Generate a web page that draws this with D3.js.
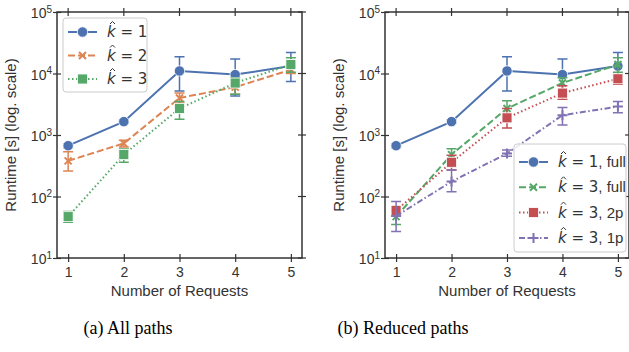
<!DOCTYPE html>
<html lang="en">
<head>
	<meta charset="utf-8">
	<title>Runtime vs requests</title>
	<script src="https://d3js.org/d3.v7.min.js"></script>
	<style>
		body { margin: 0; background: #fff; }
		.tick text, .lab { font-family: "Liberation Sans", Arial, sans-serif; fill: #333; }
	</style>
</head>
<body>
<script>
// ---- data ----
var requests = [1, 2, 3, 4, 5]
var yTicks = [1, 2, 3, 4, 5]   // exponents of 10

// left panel: all paths
var k1 = [670, 1650, 11000, 9600, 13200]
var k1Lo = [620, 1550, 5200, 4300, 7400]
var k1Hi = [720, 1750, 18800, 17200, 22000]

var k2 = [380, 730, 4000, 6000, 11500]
var k2Lo = [260, 640, 3300, 4600, 10000]
var k2Hi = [535, 820, 4800, 6800, 13000]

var k3 = [47, 480, 2700, 7000, 14000]
var k3Lo = [38, 360, 1800, 4600, 10500]
var k3Hi = [57, 590, 3500, 8500, 18000]

// right panel: reduced paths
var k3p2 = [59, 360, 1900, 4800, 8200]
var k3p2Lo = [50, 270, 1300, 3800, 6700]
var k3p2Hi = [70, 470, 2700, 6300, 9400]

var k3p1 = [48, 175, 500, 2100, 2900]
var k3p1Lo = [27, 120, 450, 1450, 2300]
var k3p1Hi = [83, 270, 570, 2800, 3500]

var k3fLo = [35, 360, 1800, 4600, 10500]
var k3fHi = [58, 600, 3600, 8500, 18000]

// seaborn deep palette
var blue = "#4C72B0", orange = "#DD8452", green = "#55A868", red = "#C44E52", purple = "#8172B3"

var left = [
	{ k: "1", tail: "", vals: k1, lo: k1Lo, hi: k1Hi, color: blue, dash: null, marker: "circle" },
	{ k: "2", tail: "", vals: k2, lo: k2Lo, hi: k2Hi, color: orange, dash: "7,3", marker: "x" },
	{ k: "3", tail: "", vals: k3, lo: k3Lo, hi: k3Hi, color: green, dash: "1.5,2.5", marker: "square" }
]
var right = [
	{ k: "1", tail: ", full", vals: k1, lo: k1Lo, hi: k1Hi, color: blue, dash: null, marker: "circle" },
	{ k: "3", tail: ", full", vals: k3, lo: k3fLo, hi: k3fHi, color: green, dash: "7,3", marker: "x" },
	{ k: "3", tail: ", 2p", vals: k3p2, lo: k3p2Lo, hi: k3p2Hi, color: red, dash: "1.5,2.5", marker: "square" },
	{ k: "3", tail: ", 1p", vals: k3p1, lo: k3p1Lo, hi: k3p1Hi, color: purple, dash: "6,2.5,1.5,2.5", marker: "plus" }
]

var W = 629, H = 352
var svg = d3.select("body").append("svg").attr("width", W).attr("height", H)

function drawMarker(g, type, x, y, color) {
	if (type == "circle") {
		g.append("circle").attr("cx", x).attr("cy", y).attr("r", 5.2).attr("fill", color)
			.attr("stroke", "#fff").attr("stroke-width", 0.8)
	} else if (type == "square") {
		g.append("rect").attr("x", x - 5).attr("y", y - 5).attr("width", 10).attr("height", 10)
			.attr("fill", color).attr("stroke", "#fff").attr("stroke-width", 0.8)
	} else if (type == "x") {
		g.append("path").attr("d", "M" + (x - 3.5) + "," + (y - 3.5) + "L" + (x + 3.5) + "," + (y + 3.5) +
			"M" + (x - 3.5) + "," + (y + 3.5) + "L" + (x + 3.5) + "," + (y - 3.5))
			.attr("stroke", color).attr("stroke-width", 2)
	} else {
		g.append("path").attr("d", "M" + (x - 5) + "," + y + "L" + (x + 5) + "," + y +
			"M" + x + "," + (y - 5) + "L" + x + "," + (y + 5))
			.attr("stroke", color).attr("stroke-width", 2)
	}
}

// k-hat label: italic k with a circumflex drawn above it
function khat(g, x, y, k, tail) {
	var t = g.append("text").attr("class", "lab").attr("x", x).attr("y", y)
		.style("font-size", "15px").style("font-family", "'DejaVu Sans', sans-serif")
	t.append("tspan").style("font-style", "italic").text("k")
	t.append("tspan").text(" = " + k)
	t.append("tspan").style("font-family", "'Liberation Sans', Arial, sans-serif").text(tail)
	g.append("path").attr("d", "M" + (x + 3) + "," + (y - 13) + "L" + (x + 5.5) + "," + (y - 15.5) + "L" + (x + 8) + "," + (y - 13))
		.attr("fill", "none").attr("stroke", "#333").attr("stroke-width", 1)
}

function panel(x0, x1, series, caption, capX, legend) {
	var top = 12, bottom = 258
	var xScale = d3.scaleLinear().domain([0.8, 5.2]).range([x0, x1])
	var yScale = d3.scaleLog().domain([10, 1e5]).range([bottom, top])
	var g = svg.append("g")

	// box + crossing ticks
	g.append("rect").attr("x", x0).attr("y", top).attr("width", x1 - x0).attr("height", bottom - top)
		.attr("fill", "none").attr("stroke", "#333").attr("stroke-width", 1.5)

	var xAxis = g.append("g").attr("transform", "translate(0," + bottom + ")")
		.call(d3.axisBottom(xScale).tickValues(requests).tickSize(4).tickPadding(5).tickFormat(d3.format("d")))
	xAxis.select(".domain").remove()
	xAxis.selectAll(".tick line").attr("y1", -4).attr("stroke", "#333").attr("stroke-width", 1.2)
	xAxis.selectAll(".tick text").style("font-size", "14px")

	var yAxis = g.append("g").attr("transform", "translate(" + x0 + ",0)")
		.call(d3.axisLeft(yScale).tickValues(yTicks.map(e => Math.pow(10, e))).tickSize(4).tickPadding(6).tickFormat(""))
	yAxis.select(".domain").remove()
	yAxis.selectAll(".tick line").attr("x1", 4).attr("x2", -4).attr("stroke", "#333").attr("stroke-width", 1.2)
	yAxis.selectAll(".tick").each(function (d) {
		var t = d3.select(this).append("text").attr("x", -5).attr("dy", "0.4em")
			.attr("text-anchor", "end").attr("fill", "#333").style("font-size", "14px")
		t.append("tspan").text("10")
		t.append("tspan").attr("dy", "-0.55em").style("font-size", "10px").text(Math.round(Math.log10(d)))
	})

	// top and right ticks
	requests.forEach(function (r) {
		g.append("line").attr("x1", xScale(r)).attr("x2", xScale(r)).attr("y1", top - 4).attr("y2", top + 4)
			.attr("stroke", "#333").attr("stroke-width", 1.2)
	})
	yTicks.forEach(function (e) {
		g.append("line").attr("x1", x1 - 4).attr("x2", x1 + 4).attr("y1", yScale(Math.pow(10, e))).attr("y2", yScale(Math.pow(10, e)))
			.attr("stroke", "#333").attr("stroke-width", 1.2)
	})

	// labels
	g.append("text").attr("class", "lab").attr("x", (x0 + x1) / 2).attr("y", 296)
		.attr("text-anchor", "middle").style("font-size", "15px").text("Number of Requests")
	g.append("text").attr("class", "lab")
		.attr("transform", "translate(" + (x0 - 41) + "," + ((top + bottom) / 2) + ") rotate(-90)")
		.attr("text-anchor", "middle").style("font-size", "15px").text("Runtime [s] (log. scale)")
	g.append("text").attr("x", capX).attr("y", 334).attr("text-anchor", "middle")
		.style("font-family", "'Liberation Serif', 'Times New Roman', serif").style("font-size", "18px")
		.attr("fill", "#000").text(caption)

	// series
	var line = d3.line().x((d, i) => xScale(requests[i])).y(d => yScale(d))
	series.forEach(function (s) {
		var sg = g.append("g")
		requests.forEach(function (r, i) {
			var x = xScale(r)
			sg.append("path").attr("d", "M" + x + "," + yScale(s.lo[i]) + "L" + x + "," + yScale(s.hi[i]) +
				"M" + (x - 5) + "," + yScale(s.lo[i]) + "L" + (x + 5) + "," + yScale(s.lo[i]) +
				"M" + (x - 5) + "," + yScale(s.hi[i]) + "L" + (x + 5) + "," + yScale(s.hi[i]))
				.attr("stroke", s.color).attr("stroke-width", 1.5).attr("fill", "none")
		})
		sg.append("path").attr("d", line(s.vals)).attr("fill", "none").attr("stroke", s.color)
			.attr("stroke-width", 2).attr("stroke-dasharray", s.dash)
		s.vals.forEach(function (v, i) { drawMarker(sg, s.marker, xScale(requests[i]), yScale(v), s.color) })
	})

	// legend
	var lg = g.append("g")
	lg.append("rect").attr("x", legend.x).attr("y", legend.y).attr("width", legend.w).attr("height", legend.h)
		.attr("rx", 3).attr("fill", "#fff").attr("fill-opacity", 0.85).attr("stroke", "#ccc").attr("stroke-width", 1)
	series.forEach(function (s, i) {
		var yy = legend.y + legend.first + i * legend.step
		var lx = legend.x + 5
		lg.append("line").attr("x1", lx).attr("x2", lx + 29).attr("y1", yy).attr("y2", yy)
			.attr("stroke", s.color).attr("stroke-width", 2).attr("stroke-dasharray", s.dash)
		drawMarker(lg, s.marker, lx + 14.5, yy, s.color)
		khat(lg, lx + 39, yy + 5, s.k, s.tail)
	})
}

panel(57, 302, left, "(a) All paths", 128, { x: 63, y: 18, w: 84, h: 74, first: 14, step: 23.5 })
panel(385, 629, right, "(b) Reduced paths", 403, { x: 514, y: 144, w: 112, h: 108, first: 18, step: 25.3 })
</script>
</body>
</html>
